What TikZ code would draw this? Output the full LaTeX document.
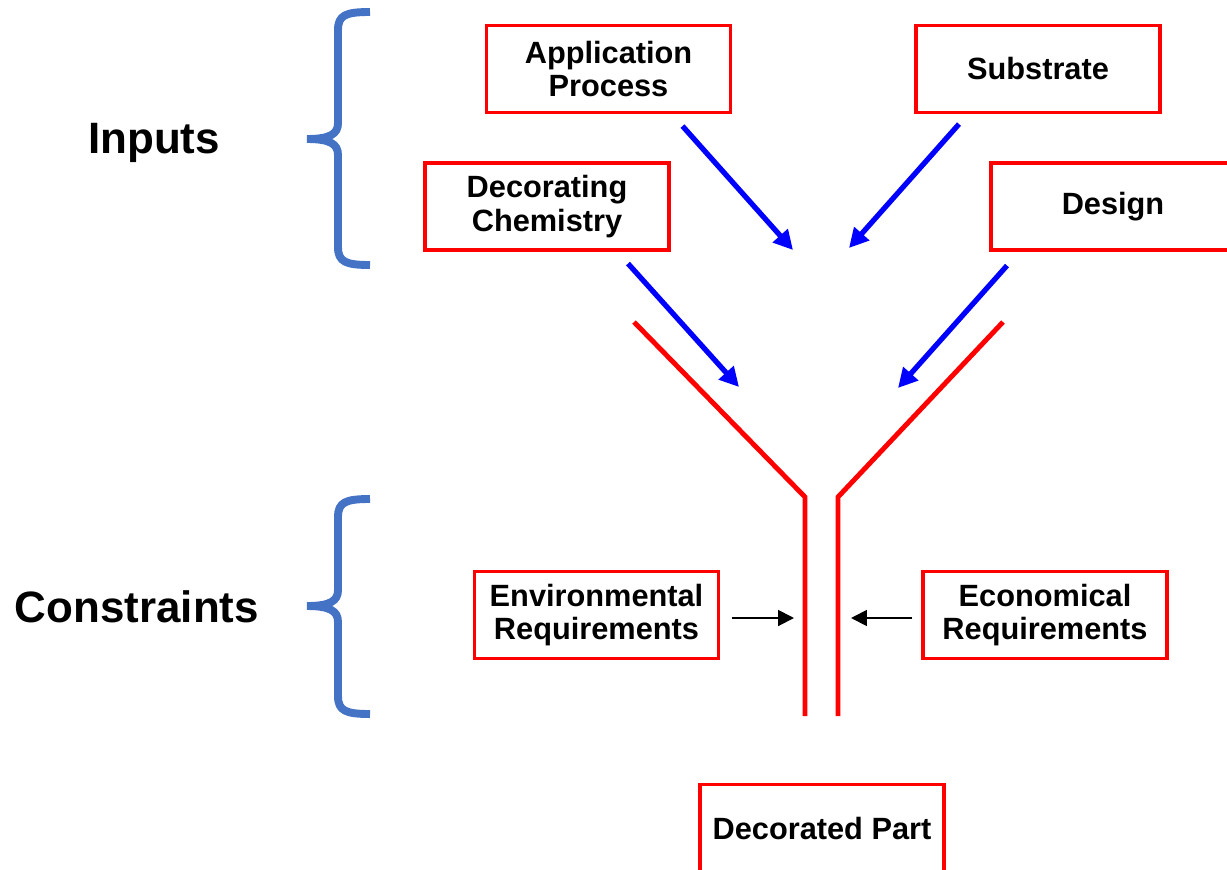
\documentclass[tikz,border=0pt]{standalone}
\usepackage{fontspec}
\setmainfont{Liberation Sans}
\usepackage{xcolor}
\usepackage{tikz}
\usetikzlibrary{calc,arrows.meta}
\definecolor{funnelRed}{RGB}{255,0,0}
\definecolor{feedBlue}{RGB}{0,0,255}
\definecolor{braceBlue}{RGB}{68,114,196}

\tikzset{
  factor/.style={draw=funnelRed, line width=1.8pt, minimum width=4.88cm, minimum height=1.74cm,
    inner sep=0pt, align=center, font=\bfseries\fontsize{17.5}{19}\selectfont},
  feed/.style={feedBlue, line width=3pt, -{Triangle[length=11pt,width=11pt]}},
  squeeze/.style={black, line width=1.1pt, -{Triangle[length=9pt,width=9pt]}},
  wall/.style={funnelRed, line width=2.8pt},
  groupbrace/.style={braceBlue, line width=4.5pt},
  grouplabel/.style={font=\bfseries\fontsize{25}{30}\selectfont}
}

\begin{document}
\begin{tikzpicture}[x=0.02cm, y=-0.02cm]
\useasboundingbox (0,0) rectangle (1227,869);

% inputs and constraints
\node[factor] (app) at (608.5,69) {Application\\Process};
\node[factor] (sub) at (1038,69) {Substrate};
\node[factor] (chem) at (547,206.5) {Decorating\\Chemistry};
\node[factor] (design) at (1113,206.5) {Design};
\node[factor] (env) at (596.5,615) {Environmental\\Requirements};
\node[factor] (eco) at (1045,615) {Economical\\Requirements};
\node[factor] (part) at (822,828) {Decorated Part};

\node[grouplabel] (inputs) at (154,143) {Inputs};
\node[grouplabel] (constraints) at (137,607) {Constraints};

% braces
\foreach \t/\m/\b in {12/139/265, 499/606/714}
  \draw[groupbrace] (370,\t) .. controls (346,\t) and (338,\t+3) .. (338,\t+18)
    -- (338,\m-16) .. controls (338,\m-5) and (330,\m) .. (307,\m)
    .. controls (330,\m) and (338,\m+5) .. (338,\m+16)
    -- (338,\b-18) .. controls (338,\b-3) and (346,\b) .. (370,\b);

% funnel
\coordinate (lTop) at (634,322);
\coordinate (lBend) at (805,497);
\coordinate (lEnd) at (805,716);
\coordinate (rTop) at (1003,322);
\coordinate (rBend) at (838,497);
\coordinate (rEnd) at (838,716);
\draw[wall] (lTop) -- (lBend) -- (lEnd);
\draw[wall] (rTop) -- (rBend) -- (rEnd);

% feeding arrows
\coordinate (appTip) at (793,250);
\coordinate (subTip) at (849,248);
\coordinate (chemTip) at (739,387);
\coordinate (designTip) at (898,388);
\draw[feed] ($(app.south)+(74,12)$) -- (appTip);
\draw[feed] ($(sub.south)+(-79,10)$) -- (subTip);
\draw[feed] ($(chem.south)+(81,12)$) -- (chemTip);
\draw[feed] ($(design.south)+(-106,14)$) -- (designTip);

\coordinate (envTip) at (794,618);
\coordinate (ecoTip) at (851,618);
\draw[squeeze] ($(env.east)+(12,3)$) -- (envTip);
\draw[squeeze] ($(eco.west)+(-9,3)$) -- (ecoTip);
\end{tikzpicture}
\end{document}
